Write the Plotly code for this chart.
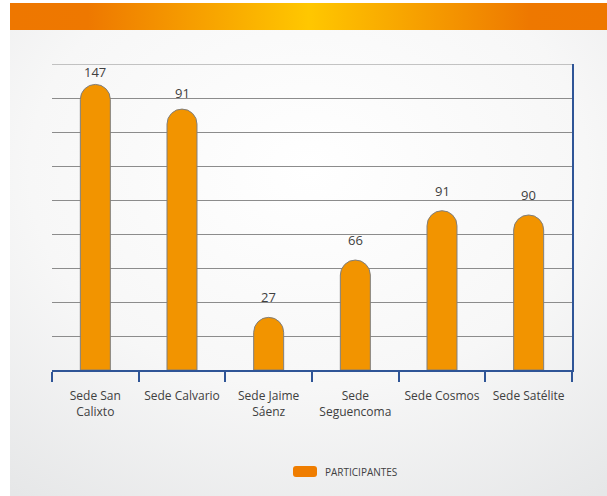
import base64
import plotly.graph_objects as go

categories = ["Sede San<br>Calixto", "Sede Calvario", "Sede Jaime<br>Sáenz",
              "Sede<br>Seguencoma", "Sede Cosmos", "Sede Satélite"]
bar_heights = [147, 134.3, 27.1, 56.6, 82.0, 79.8]
bar_labels = ["147", "91", "27", "66", "91", "90"]
series_name = "PARTICIPANTES"

# styling: pixel offset of each value label above its bar
label_offsets = [12, 16, 20, 20, 20, 20]

W, H = 607, 496
ML, MR, MT, MB = 52, 35, 64, 126
PW, PH = W - ML - MR, H - MT - MB
YMAX, YSTEP = 157.5, 17.5

svg = f"""<svg xmlns='http://www.w3.org/2000/svg' width='{W}' height='{H}' viewBox='0 0 {W} {H}'>
<defs>
<linearGradient id='bn' x1='0' y1='0' x2='1' y2='0'>
<stop offset='0' stop-color='#EE7700'/><stop offset='0.13' stop-color='#EE7800'/>
<stop offset='0.5' stop-color='#FFC700'/><stop offset='0.87' stop-color='#EE7800'/>
<stop offset='1' stop-color='#EE7700'/></linearGradient>
<radialGradient id='bg' cx='0.5' cy='0.3' r='0.85'>
<stop offset='0' stop-color='#FFFFFF'/><stop offset='0.55' stop-color='#F7F7F7'/>
<stop offset='1' stop-color='#E6E7E8'/></radialGradient>
</defs>
<rect x='0' y='0' width='{W}' height='{H}' fill='#FFFFFF'/>
<rect x='10' y='30' width='{W-10}' height='{H-30}' fill='url(#bg)'/>
<rect x='10' y='3' width='{W-10}' height='27' fill='url(#bn)'/>
</svg>"""
src = "data:image/svg+xml;base64," + base64.b64encode(svg.encode()).decode()

fig = go.Figure()
fig.add_trace(go.Bar(
    x=categories, y=bar_heights,
    marker=dict(color="#F29400", line=dict(color="#7F7F7F", width=1), cornerradius=15),
    width=0.346, name=series_name, showlegend=False, cliponaxis=False,
))

for cat, h, lab, off in zip(categories, bar_heights, bar_labels, label_offsets):
    fig.add_annotation(x=cat, y=h, text=lab, showarrow=False, yshift=off,
                       yanchor="middle", xanchor="center",
                       font=dict(family="Open Sans", size=13, color="#404040"))

blue = "#2F5597"
fig.update_layout(
    width=W, height=H, margin=dict(l=ML, r=MR, t=MT, b=MB),
    paper_bgcolor="white", plot_bgcolor="rgba(0,0,0,0)",
    font=dict(family="Open Sans", color="#404040"),
    xaxis=dict(showline=True, linecolor=blue, linewidth=1.5, ticks="outside",
               tickson="boundaries", ticklen=10, tickcolor=blue, tickwidth=1.5,
               tickfont=dict(size=12, color="#404040"), ticklabelstandoff=14,
               showgrid=False, zeroline=False),
    yaxis=dict(range=[0, YMAX], tickvals=[YSTEP * i for i in range(1, 10)],
               showticklabels=False, showgrid=True, gridcolor="#8C8C8C", gridwidth=1,
               side="right", showline=True, linecolor=blue, linewidth=1.5,
               zeroline=False, ticks=""),
    bargap=0.654,
    images=[dict(source=src, xref="paper", yref="paper", x=-ML / PW, y=1 + MT / PH,
                 sizex=W / PW, sizey=H / PH, sizing="stretch", xanchor="left",
                 yanchor="top", layer="below")],
)

# top gridline (plotly omits the gridline at the range edge)
fig.add_shape(type="line", xref="paper", yref="y", x0=0, x1=1, y0=YMAX, y1=YMAX,
              line=dict(color="#8C8C8C", width=1), layer="below")

# legend entry
lx0, lx1, ly0, ly1 = 293, 317, 466, 477
def px(xv):
    return (xv - ML) / PW
def py(yv):
    return (H - MB - yv) / PH
r = 3
path = (f"M {px(lx0+r)} {py(ly0)} L {px(lx1-r)} {py(ly0)} Q {px(lx1)} {py(ly0)} {px(lx1)} {py(ly0+r)} "
        f"L {px(lx1)} {py(ly1-r)} Q {px(lx1)} {py(ly1)} {px(lx1-r)} {py(ly1)} "
        f"L {px(lx0+r)} {py(ly1)} Q {px(lx0)} {py(ly1)} {px(lx0)} {py(ly1-r)} "
        f"L {px(lx0)} {py(ly0+r)} Q {px(lx0)} {py(ly0)} {px(lx0+r)} {py(ly0)} Z")
fig.add_shape(type="path", path=path, xref="paper", yref="paper",
              fillcolor="#EF7D00", line=dict(width=0))
fig.add_annotation(text=series_name, xref="paper", yref="paper", x=px(323), y=py(471.5),
                   xanchor="left", yanchor="middle", showarrow=False,
                   font=dict(family="Open Sans", size=10, color="#404040"))

fig.write_html("out.html")
